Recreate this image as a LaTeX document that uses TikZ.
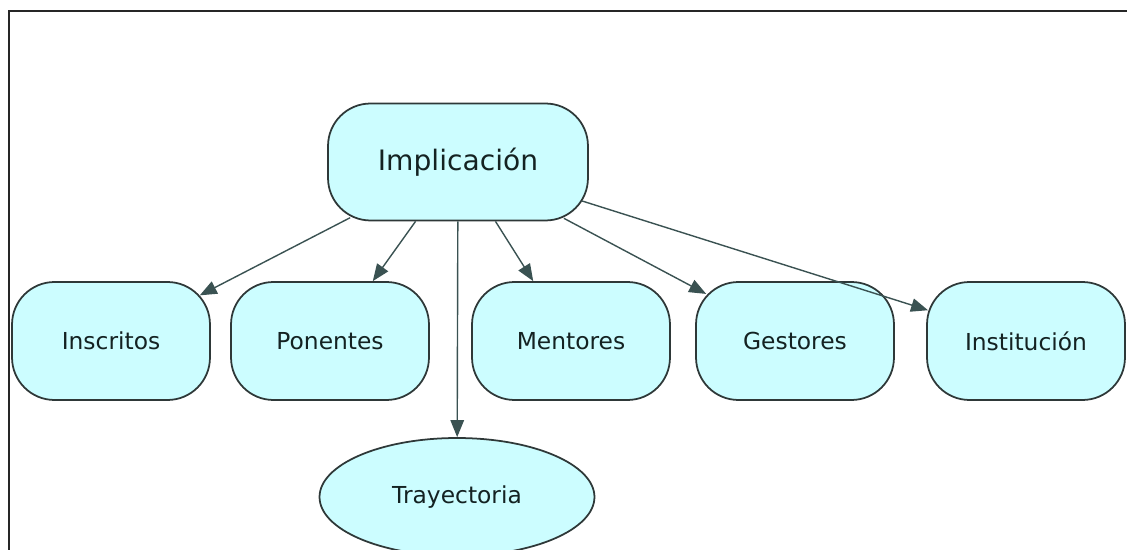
\documentclass[tikz,border=0pt]{standalone}
\usepackage{fontspec}
\setmainfont{DejaVu Sans}
\usepackage{xcolor}
\usetikzlibrary{shapes.geometric, arrows.meta}
\definecolor{boxfill}{HTML}{CCFDFF}
\definecolor{boxline}{HTML}{2E3838}
\definecolor{edgecol}{HTML}{3A5252}
\definecolor{txtcol}{HTML}{142222}
\tikzstyle{every node}=[font=\fontsize{13.3}{16}\selectfont, text=txtcol]
\tikzstyle{block} = [rectangle, draw=boxline, line width=1pt, fill=boxfill, text centered, minimum width=3.96cm, minimum height=2.36cm, rounded corners=0.85cm]
\tikzstyle{oval} = [ellipse, draw=boxline, line width=1pt, fill=boxfill, minimum width=5.5cm, minimum height=2.36cm]
\tikzstyle{line} = [draw=edgecol, line width=0.8pt, -{Triangle[length=0.34cm,width=0.27cm]}]

\begin{document}
\begin{tikzpicture}[x=0.02cm, y=-0.02cm]
    \useasboundingbox (0,0) rectangle (1127,550);
    \clip (0,0) rectangle (1127,550);
    % Frame
    \draw [line width=0.8pt, black!85] (9,560) -- (9,11) -- (1140,11);
    % Place nodes
    \node [block, minimum width=5.2cm, minimum height=2.34cm, font=\fontsize{16}{19}\selectfont] (impl) at (458,162) {Implicación};
    \node [block] (inscritos) at (111,341) {Inscritos};
    \node [block] (ponentes) at (330,341) {Ponentes};
    \node [block] (mentores) at (571,341) {Mentores};
    \node [block] (gestores) at (795,341) {Gestores};
    \node [block] (institucion) at (1026,341) {Institución};
    \node [oval] (trayectoria) at (457,497) {Trayectoria};
    % Draw edges
    \path [line, shorten <=-0.16cm, shorten >=-0.25cm] (impl) -- (inscritos);
    \path [line] (impl) -- (ponentes);
    \path [line] (impl) -- (trayectoria);
    \path [line] (impl) -- (mentores);
    \path [line, shorten <=-0.13cm, shorten >=-0.25cm] (impl) -- (gestores);
    \path [line, shorten <=-0.14cm, shorten >=-0.04cm] (impl) -- (institucion);
\end{tikzpicture}
\end{document}
